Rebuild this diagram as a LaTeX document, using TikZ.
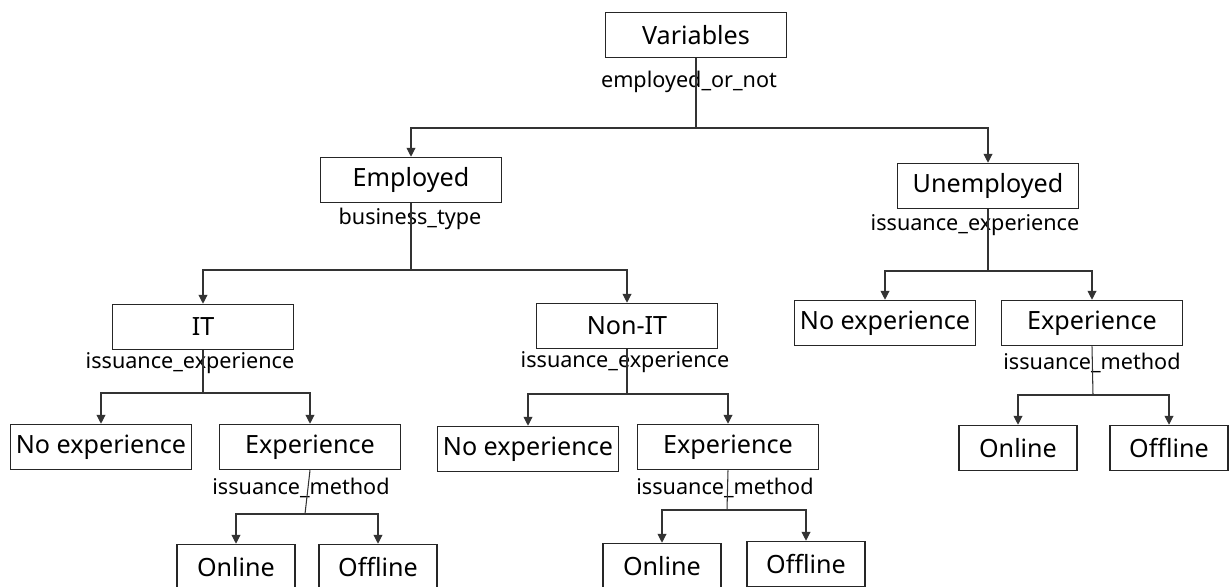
\documentclass[tikz,border=0pt]{standalone}
\usepackage{fontspec}
\setmainfont{Noto Sans}
\usetikzlibrary{arrows.meta}

\begin{document}
\begin{tikzpicture}[x=0.02cm,y=-0.02cm,
    box/.style={draw=black!85,line width=0.6pt,minimum width=3.62cm,minimum height=0.91cm,
      inner sep=0pt,font=\fontsize{14.3}{17}\selectfont},
    leaf/.style={box,minimum width=2.36cm},
    lbl/.style={inner sep=0pt,font=\fontsize{12.3}{14}\selectfont},
    >={Triangle[length=5pt,width=5pt]}]
  \useasboundingbox (0,0) rectangle (1231,587);
  \node[box] (var) at (696,35) {Variables};
  \node[box] (emp) at (411,180) {Employed};
  \node[box] (unemp) at (988,186) {Unemployed};
  \node[box] (it) at (203,327) {IT};
  \node[box] (nonit) at (627,326) {Non-IT};
  \node[box] (itno) at (101,447) {No experience};
  \node[box] (itexp) at (310,447) {Experience};
  \node[box] (nitno) at (528,449) {No experience};
  \node[box] (nitexp) at (728,447) {Experience};
  \node[box] (uno) at (885,323) {No experience};
  \node[box] (uexp) at (1092,323) {Experience};
  \node[leaf] (iton) at (236,567) {Online};
  \node[leaf] (itoff) at (378,567) {Offline};
  \node[leaf] (niton) at (662,566) {Online};
  \node[leaf] (nitoff) at (806,564) {Offline};
  \node[leaf] (uon) at (1018,448) {Online};
  \node[leaf] (uoff) at (1169,448) {Offline};
  % split variables
  \node[lbl] (l-var) at (689,82) {employed\_or\_not};
  \node[lbl] (l-emp) at (410,219) {business\_type};
  \node[lbl] (l-unemp) at (975,225) {issuance\_experience};
  \node[lbl] (l-it) at (190,363) {issuance\_experience};
  \node[lbl] (l-nonit) at (625,362) {issuance\_experience};
  \node[lbl] (l-itexp) at (301,488) {issuance\_method};
  \node[lbl] (l-nitexp) at (725,488) {issuance\_method};
  \node[lbl] (l-uexp) at (1092,363) {issuance\_method};
  \foreach \p/\x/\y/\l/\r in {var/696/128/emp/unemp, emp/411/270/it/nonit,
      unemp/988/271/uno/uexp, it/203/393/itno/itexp, nonit/627/394/nitno/nitexp,
      itexp/305/514/iton/itoff, nitexp/727/510/niton/nitoff, uexp/1093/395/uon/uoff} {
    \coordinate (\p-s) at (\x,\y);
    \draw[black!80,line width=0.6pt] (\p.south) -- (\p-s);
    \draw[->,black!80,line width=0.6pt] (\p-s) -| (\l.north);
    \draw[->,black!80,line width=0.6pt] (\p-s) -| (\r.north);
  }
\end{tikzpicture}
\end{document}
